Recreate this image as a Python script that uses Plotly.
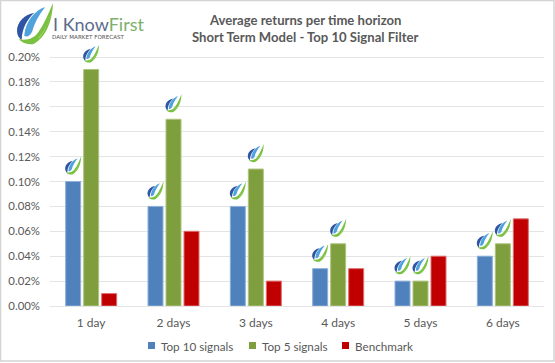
import plotly.graph_objects as go

categories = ["1 day", "2 days", "3 days", "4 days", "5 days", "6 days"]
top10 = [0.10, 0.08, 0.08, 0.03, 0.02, 0.04]
top5 = [0.19, 0.15, 0.11, 0.05, 0.02, 0.05]
benchmark = [0.01, 0.06, 0.02, 0.03, 0.04, 0.07]
y_ticks = [0.00, 0.02, 0.04, 0.06, 0.08, 0.10, 0.12, 0.14, 0.16, 0.18, 0.20]
y_labels = ["0.00%", "0.02%", "0.04%", "0.06%", "0.08%", "0.10%", "0.12%", "0.14%", "0.16%", "0.18%", "0.20%"]

W, H = 555, 363
L, R, T, B = 50, 11, 37, 57
PW, PH = W - L - R, H - T - B
Y_TOP = 0.2 * PH / 249
BARGAP, GROUPGAP = 0.344, 0.167
FONT = "Lato"
GRAY = "#595959"

PARTS = [
    ("#2F55A4", [("M", .48, .76), ("C", .22, .72, 0, .54, 0, .32), ("C", 0, .22, .05, .15, .13, .1), ("C", .14, .38, .28, .6, .48, .76)]),
    ("#4FA3DC", [("M", .78, .9), ("C", .5, .82, .24, .56, .2, .2), ("C", .28, .16, .36, .2, .42, .3), ("C", .48, .5, .6, .7, .78, .9)]),
    ("#7AC143", [("M", 1, 1), ("C", .98, .6, .84, .18, .46, 0), ("C", .28, -.03, .12, .04, .05, .12), ("C", .26, .08, .46, .12, .6, .3), ("C", .76, .5, .88, .76, 1, 1)]),
    ("#B5DC6A", [("M", .96, .78), ("C", .9, .55, .78, .32, .56, .12), ("C", .72, .18, .86, .48, .96, .78)]),
]


def drop_path(pts, sx, sy, dx=0, dy=0):
    out = []
    for p in pts:
        vals = p[1:]
        coords = []
        for i in range(0, len(vals), 2):
            coords.append(f"{vals[i] * sx + dx:.1f},{vals[i + 1] * sy + dy:.1f}")
        out.append(p[0] + " ".join(coords))
    return " ".join(out) + " Z"


def px(x):
    return (x - L) / PW


def py(y):
    return 1 + (T - y) / PH


fig = go.Figure()
series = [("Top 10 signals", top10, "#4F81BD", "#8FB0D8"),
          ("Top 5 signals", top5, "#7F9F3F", "#AEC47F"),
          ("Benchmark", benchmark, "#C00000", "#DD7070")]
idx = list(range(len(categories)))
for name, vals, col, edge in series:
    fig.add_bar(x=idx, y=vals, name=name, showlegend=False,
                marker=dict(color=col, line=dict(color=edge, width=1)))

shapes = [dict(type="rect", xref="paper", yref="paper",
               x0=px(0.5), x1=px(W - 1), y0=py(H - 2), y1=py(0.5),
               line=dict(color="#D4D4D4", width=1.5), fillcolor="rgba(0,0,0,0)", layer="below")]

slot = (1 - BARGAP) / 3
for si, vals in enumerate([top10, top5]):
    for i, v in enumerate(vals):
        xc = i + (si - 1) * slot
        for col, pts in PARTS:
            shapes.append(dict(type="path", xref="x", yref="y", xsizemode="pixel", ysizemode="pixel",
                               xanchor=xc, yanchor=v, path=drop_path(pts, 16, 18, -8, 7),
                               fillcolor=col, line=dict(width=0), layer="above"))

for col, pts in PARTS:
    shapes.append(dict(type="path", xref="paper", yref="paper", xsizemode="pixel", ysizemode="pixel",
                       xanchor=px(17), yanchor=py(44), path=drop_path(pts, 36, 41),
                       fillcolor=col, line=dict(width=0), layer="above"))

annotations = [
    dict(text="<span style='color:#5B6B8C'>I Know</span><span style='color:#7DB06A'>First</span>",
         xref="paper", yref="paper", x=px(51), y=py(24), xanchor="left", yanchor="middle",
         showarrow=False, font=dict(family=FONT, size=18)),
    dict(text="DAILY MARKET FORECAST", xref="paper", yref="paper", x=px(50), y=py(37),
         xanchor="left", yanchor="middle", showarrow=False,
         font=dict(family="DejaVu Sans", size=5.6, color="#555555")),
    dict(text="<b>Average returns per time horizon</b>", xref="paper", yref="paper", x=px(305),
         y=py(20), xanchor="center", yanchor="middle", showarrow=False,
         font=dict(family=FONT, size=13.1, color=GRAY)),
    dict(text="<b>Short Term Model - Top 10 Signal Filter</b>", xref="paper", yref="paper", x=px(305),
         y=py(37), xanchor="center", yanchor="middle", showarrow=False,
         font=dict(family=FONT, size=13.1, color=GRAY)),
]

legend_swatch_x = [148, 249, 342]
for (name, _, col, _e), sx in zip(series, legend_swatch_x):
    shapes.append(dict(type="rect", xref="paper", yref="paper", x0=px(sx), x1=px(sx + 7),
                       y0=py(349), y1=py(342), fillcolor=col, line=dict(width=0)))
    annotations.append(dict(text=name, xref="paper", yref="paper", x=px(sx + 11), y=py(345.5),
                            xanchor="left", yanchor="middle", showarrow=False,
                            font=dict(family=FONT, size=11.7, color=GRAY)))

fig.update_layout(
    width=W, height=H, autosize=False,
    margin=dict(l=L, r=R, t=T, b=B, autoexpand=False),
    paper_bgcolor="white", plot_bgcolor="white",
    barmode="group", bargap=BARGAP, bargroupgap=GROUPGAP,
    font=dict(family=FONT, size=12, color=GRAY),
    shapes=shapes, annotations=annotations,
    showlegend=False,
    xaxis=dict(range=[-0.5, 5.5], tickmode="array", tickvals=idx, ticktext=categories, showgrid=False,
               automargin=False, zeroline=False, showline=False, ticks="", ticklen=0, ticklabelstandoff=8,
               tickfont=dict(family=FONT, size=12, color=GRAY)),
    yaxis=dict(range=[0, Y_TOP], tickmode="array", tickvals=y_ticks, ticktext=y_labels,
               automargin=False, gridcolor="#E4E4E4", gridwidth=1, zeroline=True, zerolinecolor="#E4E4E4",
               zerolinewidth=1, showline=False, ticks="", ticklabelstandoff=9,
               tickfont=dict(family=FONT, size=11.4, color=GRAY)),
)
fig.write_html("out.html", config=dict(displayModeBar=False),
               post_script="document.body.style.margin='0';")
